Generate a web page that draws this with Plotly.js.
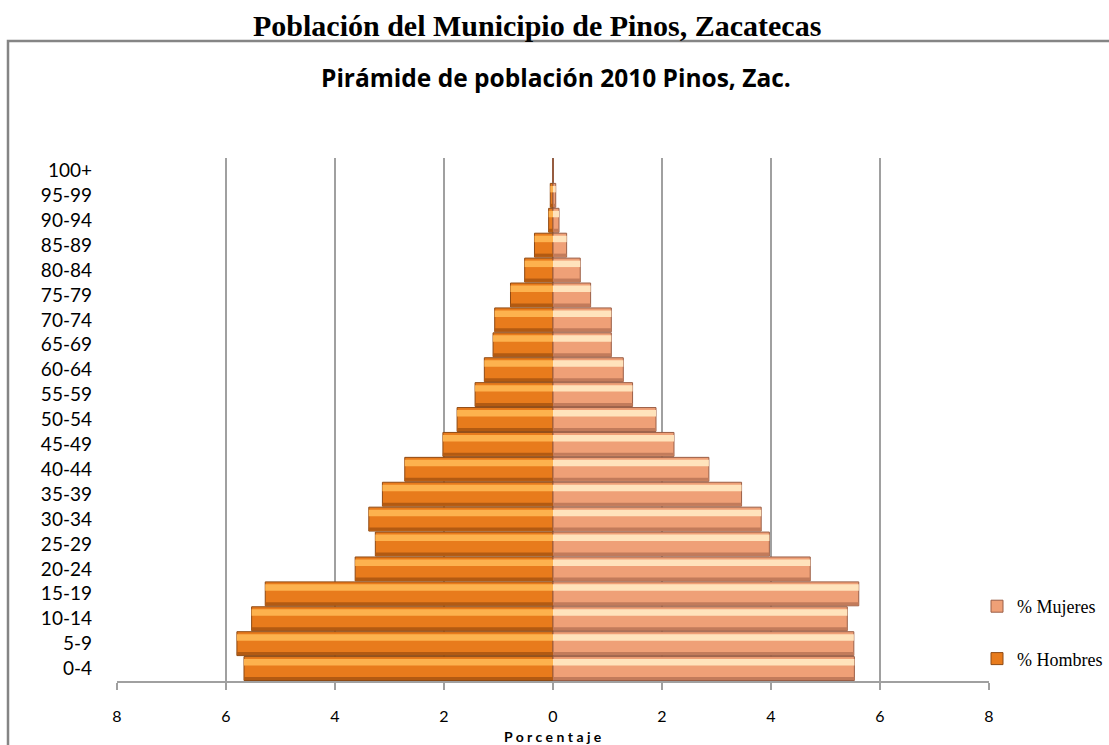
<!DOCTYPE html>
<html>
<head>
<meta charset="utf-8">
<script src="https://cdn.plot.ly/plotly-3.0.1.min.js"></script>
<style>
  html, body { margin: 0; padding: 0; background: #fff; }
  #chart { width: 1109px; height: 745px; }
</style>
</head>
<body>
<div id="chart"></div>
<script>
// ---- Data ----
const grupos = ['0-4','5-9','10-14','15-19','20-24','25-29','30-34','35-39','40-44','45-49',
                '50-54','55-59','60-64','65-69','70-74','75-79','80-84','85-89','90-94','95-99','100+'];
const hombres = [5.67, 5.80, 5.53, 5.28, 3.63, 3.26, 3.38, 3.13, 2.72, 2.02,
                 1.76, 1.43, 1.26, 1.10, 1.07, 0.78, 0.52, 0.34, 0.08, 0.05, 0.00];
const mujeres = [5.53, 5.52, 5.40, 5.61, 4.72, 3.97, 3.82, 3.46, 2.86, 2.22,
                 1.89, 1.46, 1.29, 1.07, 1.07, 0.69, 0.50, 0.25, 0.11, 0.05, 0.00];
const xTicks = [-8, -6, -4, -2, 0, 2, 4, 6, 8];
const xTickText = ['8', '6', '4', '2', '0', '2', '4', '6', '8'];

const hombresNeg = hombres.map(v => -v);

// ---- Layout geometry (pixels) ----
const W = 1109, H = 745, L = 117, R = 120, T = 158, B = 64;
const PW = W - L - R, PH = H - T - B;
const px = x => (x - L) / PW;
const py = y => (H - B - y) / PH;

const menMain = '#E87B1C', menLight = '#FDB24E', menDark = '#B25A12', menLine = '#8E4A14';
const womMain = '#EFA077', womLight = '#FFE3BC', womDark = '#C27B5B', womLine = '#9A5E46';

function barTrace(xs, color, width, offset, extra) {
  return Object.assign({
    type: 'bar', orientation: 'h', y: grupos, x: xs,
    width: width, offset: offset,
    marker: { color: color, line: { width: 0 } },
    hoverinfo: 'skip', showlegend: false
  }, extra || {});
}

const data = [
  barTrace(hombresNeg, menMain, 0.96, -0.48, {
    name: '% Hombres', showlegend: true, legendgroup: 'h', legendrank: 2,
    marker: { color: menMain, line: { color: menLine, width: 1 } }
  }),
  barTrace(mujeres, womMain, 0.96, -0.48, {
    name: '% Mujeres', showlegend: true, legendgroup: 'm', legendrank: 1,
    marker: { color: womMain, line: { color: womLine, width: 1 } }
  }),
  barTrace(hombresNeg, menLight, 0.26, 0.12),
  barTrace(mujeres, womLight, 0.26, 0.12),
  barTrace(hombresNeg, menDark, 0.12, -0.46),
  barTrace(mujeres, womDark, 0.12, -0.46)
];

const layout = {
  width: W, height: H,
  margin: { l: L, r: R, t: T, b: B, pad: 0, autoexpand: false },
  paper_bgcolor: '#ffffff', plot_bgcolor: '#ffffff',
  barmode: 'overlay',
  font: { family: 'Lato, "Open Sans", sans-serif', color: '#000' },
  showlegend: true,
  legend: {
    xref: 'container', yref: 'container',
    x: 977 / W, y: (H - 588) / H, xanchor: 'left', yanchor: 'top',
    traceorder: 'grouped', tracegroupgap: 26,
    itemwidth: 30,
    font: { family: '"Liberation Serif", "Times New Roman", serif', size: 18, color: '#000' },
    bgcolor: 'rgba(0,0,0,0)'
  },
  xaxis: {
    range: [-8, 8], tickmode: 'array', tickvals: xTicks, ticktext: xTickText,
    showgrid: true, gridcolor: '#A0A0A0', gridwidth: 1.5,
    zeroline: true, zerolinecolor: '#868686', zerolinewidth: 2,
    showline: true, linecolor: '#A0A0A0', linewidth: 1.5,
    ticks: 'outside', ticklen: 7, tickcolor: '#A0A0A0', tickwidth: 1.5,
    ticklabelstandoff: 13, automargin: false,
    tickfont: { family: 'Lato, "Open Sans", sans-serif', size: 16, color: '#000' },
    fixedrange: true
  },
  yaxis: {
    type: 'category', categoryorder: 'array', categoryarray: grupos,
    range: [-0.5, 20.5], automargin: false,
    showgrid: false, zeroline: false, showline: false, ticks: '',
    ticklabelstandoff: 24,
    tickfont: { family: 'Lato, "Open Sans", sans-serif', size: 19, color: '#000' },
    fixedrange: true
  },
  shapes: [
    { type: 'rect', xref: 'paper', yref: 'paper',
      x0: px(8), x1: px(1130), y0: py(41), y1: py(760),
      line: { color: '#858585', width: 2.5 }, fillcolor: 'rgba(0,0,0,0)', layer: 'below' }
  ],
  annotations: [
    { text: '<b>Población del Municipio de Pinos, Zacatecas</b>', xref: 'paper', yref: 'paper',
      x: px(537), y: py(25), xanchor: 'center', yanchor: 'middle', showarrow: false,
      font: { family: '"Liberation Serif", "Times New Roman", serif', size: 30, color: '#000' } },
    { text: '<b>Pirámide de población 2010 Pinos, Zac.</b>', xref: 'paper', yref: 'paper',
      x: px(556), y: py(77), xanchor: 'center', yanchor: 'middle', showarrow: false,
      font: { family: '"Open Sans", Lato, sans-serif', size: 24.5, color: '#000' } },
    { text: '<b>P o r c e n t a j e</b>', xref: 'paper', yref: 'paper',
      x: px(553), y: py(736), xanchor: 'center', yanchor: 'middle', showarrow: false,
      font: { family: 'Lato, "Open Sans", sans-serif', size: 14, color: '#000' } }
  ]
};

Plotly.newPlot('chart', data, layout, { displayModeBar: false, staticPlot: true });
</script>
</body>
</html>
